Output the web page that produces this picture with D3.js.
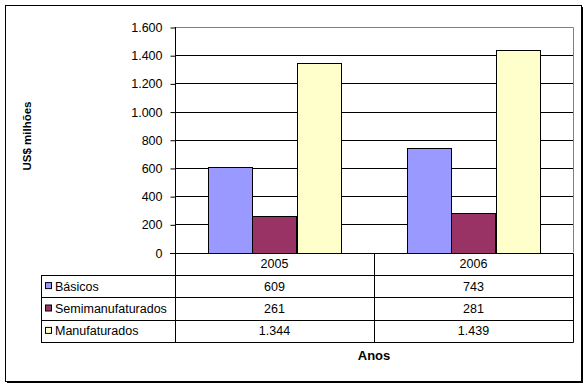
<!DOCTYPE html>
<html>
<head>
<meta charset="utf-8">
<script src="https://cdn.jsdelivr.net/npm/d3@7"></script>
<style>
  body { margin: 0; background: #fff; }
  svg text { font-family: Arial, "Liberation Sans", sans-serif; fill: #000; }
</style>
</head>
<body>
<div id="chart"></div>
<script>
// data
var years = ["2005", "2006"];
var seriesNames = ["Básicos", "Semimanufaturados", "Manufaturados"];
var basicos = [609, 743];
var semimanufaturados = [261, 281];
var manufaturados = [1344, 1439];
var colors = ["#9999FF", "#993366", "#FFFFCC"];
var yTicks = [0, 200, 400, 600, 800, 1000, 1200, 1400, 1600];

var values = [basicos, semimanufaturados, manufaturados];
var fmt = d3.formatLocale({decimal: ",", thousands: ".", grouping: [3], currency: ["", ""]}).format(",d");

var width = 588, height = 386;
// note: "top" is a reserved window property, so use plotTop etc.
var plotLeft = 175, plotRight = 573, plotTop = 27, plotBottom = 252.5;
var rowH = 22.4, tableLeft = 41;

var svg = d3.select("#chart").append("svg")
    .attr("width", width)
    .attr("height", height);

// chart border (with the small shadow on right/bottom)
svg.append("rect")
    .attr("x", 5.5).attr("y", 5.5)
    .attr("width", 576).attr("height", 376)
    .attr("fill", "#fff").attr("stroke", "#000");
svg.append("path")
    .attr("d", "M582.5,7V383M7,382.5H583")
    .attr("stroke", "#000").attr("fill", "none");

var y = d3.scaleLinear().domain([0, 1600]).range([plotBottom, plotTop]);
var x0 = d3.scaleBand().domain(years).range([plotLeft, plotRight]);
var bw = x0.bandwidth();
var x1 = d3.scaleBand().domain(seriesNames).range([bw / 6, bw * 5 / 6]);

// gridlines
svg.append("g")
    .selectAll("line")
    .data(yTicks.filter(d => d > 0 && d < 1600))
    .enter()
    .append("line")
    .attr("x1", plotLeft).attr("x2", plotRight)
    .attr("y1", d => Math.round(y(d)) + 0.5)
    .attr("y2", d => Math.round(y(d)) + 0.5)
    .attr("stroke", "#000");

// plot area border (gray top and right)
svg.append("path")
    .attr("d", "M" + plotLeft + "," + (Math.round(plotTop) + 0.5) + "H" + (plotRight + 0.5) + "V" + plotBottom)
    .attr("stroke", "#808080").attr("fill", "none");

// bars
var groups = svg.append("g")
    .selectAll("g")
    .data(years)
    .enter()
    .append("g")
    .attr("transform", d => "translate(" + x0(d) + ",0)");

groups.selectAll("rect")
    .data((d, i) => seriesNames.map((s, j) => ({s: s, v: values[j][i], c: colors[j]})))
    .enter()
    .append("rect")
    .attr("x", d => Math.round(x1(d.s)) + 0.5)
    .attr("y", d => Math.round(y(d.v)) + 0.5)
    .attr("width", d => Math.round(x1.bandwidth()))
    .attr("height", d => Math.round(plotBottom) - Math.round(y(d.v)))
    .attr("fill", d => d.c)
    .attr("stroke", "#000");

// y axis
var yAxis = d3.axisLeft(y)
    .tickValues(yTicks)
    .tickSize(5)
    .tickPadding(8)
    .tickFormat(d => fmt(d));

var ga = svg.append("g")
    .attr("transform", "translate(" + (plotLeft + 0.5) + ",0.5)")
    .call(yAxis);
ga.select(".domain").remove();
ga.selectAll("line").attr("stroke", "#000");
ga.selectAll("text")
    .style("font-size", "12.5px")
    .attr("fill", "#000");

// data table
var tbl = svg.append("g");

// horizontal row lines
var rowYs = [0, 1, 2, 3, 4].map(i => Math.round(plotBottom + i * rowH) + 0.5);
tbl.selectAll("line.row")
    .data(rowYs)
    .enter()
    .append("line")
    .attr("class", "row")
    .attr("x1", (d, i) => i === 0 ? plotLeft - 5 : tableLeft)
    .attr("x2", plotRight + 0.5)
    .attr("y1", d => d).attr("y2", d => d)
    .attr("stroke", "#000");

// vertical lines
var colXs = [plotLeft, x0("2006"), plotRight];
tbl.selectAll("line.col")
    .data(colXs)
    .enter()
    .append("line")
    .attr("class", "col")
    .attr("x1", d => Math.round(d) + 0.5).attr("x2", d => Math.round(d) + 0.5)
    .attr("y1", (d, i) => i === 0 ? plotTop : rowYs[0])
    .attr("y2", rowYs[4])
    .attr("stroke", "#000");
tbl.append("line")
    .attr("x1", tableLeft + 0.5).attr("x2", tableLeft + 0.5)
    .attr("y1", rowYs[1]).attr("y2", rowYs[4])
    .attr("stroke", "#000");

// header row: years
tbl.selectAll("text.year")
    .data(years)
    .enter()
    .append("text")
    .attr("class", "year")
    .attr("x", d => x0(d) + bw / 2)
    .attr("y", plotBottom + rowH / 2 + 4.5)
    .attr("text-anchor", "middle")
    .style("font-size", "12.5px")
    .text(d => d);

// series rows
var rows = tbl.selectAll("g.srow")
    .data(seriesNames)
    .enter()
    .append("g")
    .attr("class", "srow")
    .attr("transform", (d, i) => "translate(0," + (plotBottom + (i + 1) * rowH) + ")");

rows.append("rect")
    .attr("x", 45.5).attr("y", (rowH / 2) - 3.5)
    .attr("width", 6).attr("height", 6)
    .attr("fill", (d, i) => colors[i])
    .attr("stroke", "#000");

rows.append("text")
    .attr("x", 55)
    .attr("y", rowH / 2 + 4.5)
    .style("font-size", "12.5px")
    .text(d => d);

rows.selectAll("text.val")
    .data((d, i) => years.map((yr, k) => ({yr: yr, v: values[i][k]})))
    .enter()
    .append("text")
    .attr("class", "val")
    .attr("x", d => x0(d.yr) + bw / 2)
    .attr("y", rowH / 2 + 4.5)
    .attr("text-anchor", "middle")
    .style("font-size", "12.5px")
    .text(d => fmt(d.v));

// axis titles
svg.append("text")
    .attr("transform", "translate(31,136) rotate(-90)")
    .attr("text-anchor", "middle")
    .style("font-size", "11.5px")
    .style("font-weight", "bold")
    .text("US$ milhões");

svg.append("text")
    .attr("x", (plotLeft + plotRight) / 2)
    .attr("y", 360)
    .attr("text-anchor", "middle")
    .style("font-size", "13px")
    .style("font-weight", "bold")
    .text("Anos");
</script>
</body>
</html>
